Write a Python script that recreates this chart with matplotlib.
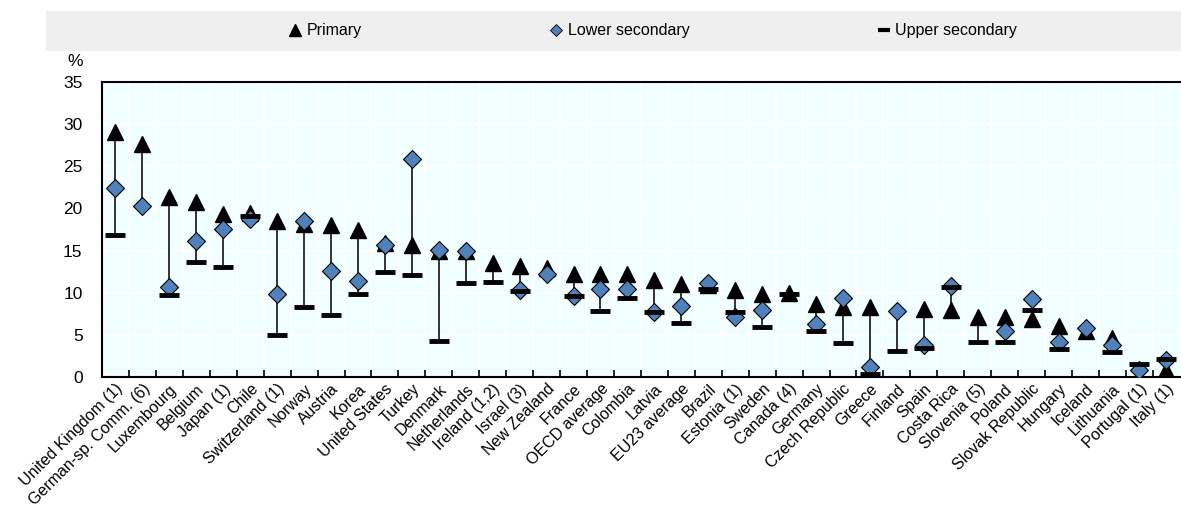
import numpy as np
import matplotlib
matplotlib.use("Agg")
import matplotlib.pyplot as plt
from matplotlib.lines import Line2D
from matplotlib.patches import Rectangle

plt.rcParams['font.family'] = ['Liberation Sans', 'DejaVu Sans']

countries = ["United Kingdom (1)", "German-sp. Comm. (6)", "Luxembourg", "Belgium", "Japan (1)",
             "Chile", "Switzerland (1)", "Norway", "Austria", "Korea", "United States", "Turkey",
             "Denmark", "Netherlands", "Ireland (1,2)", "Israel (3)", "New Zealand", "France",
             "OECD average", "Colombia", "Latvia", "EU23 average", "Brazil", "Estonia (1)",
             "Sweden", "Canada (4)", "Germany", "Czech Republic", "Greece", "Finland", "Spain",
             "Costa Rica", "Slovenia (5)", "Poland", "Slovak Republic", "Hungary", "Iceland",
             "Lithuania", "Portugal (1)", "Italy (1)"]

nan = np.nan
primary = [29.1, 27.7, 21.4, 20.8, 19.3, 19.4, 18.5, 18.2, 18.0, 17.4, 15.9, 15.7,
           15.0, 14.9, 13.5, 13.2, 12.9, 12.2, 12.2, 12.2, 11.5, 11.0, 10.9, 10.3,
           9.9, 10.0, 8.7, 8.3, 8.3, nan, 8.1, 7.9, 7.1, 7.1, 6.9, 6.1, 5.4, 4.6, nan, 0.8]
lower_sec = [22.4, 20.3, 10.7, 16.1, 17.6, 18.7, 9.8, 18.5, 12.6, 11.4, 15.7, 25.9,
             15.1, 14.9, nan, 10.3, 12.2, 9.6, 10.4, 10.4, 7.7, 8.4, 11.2, 7.1,
             7.9, nan, 6.3, 9.4, 1.2, 7.8, 3.8, 10.8, nan, 5.5, 9.2, 4.1, 5.8, 3.8, 0.8, 2.0]
upper_sec = [16.9, nan, 9.7, 13.6, 13.0, 19.1, 5.0, 8.3, 7.4, 9.8, 12.4, 12.1,
             4.3, 11.1, 11.3, 10.2, nan, 9.6, 7.8, 9.4, 7.7, 6.4, 10.4, 7.7,
             5.9, 9.9, 5.5, 4.0, 0.3, 3.1, 3.4, 10.7, 4.1, 4.1, 8.0, 3.3, nan, 3.0, 1.6, 2.1]

x = np.arange(len(countries))
p = np.array(primary)
l = np.array(lower_sec)
u = np.array(upper_sec)
stack = np.vstack([p, l, u])
lo = np.nanmin(stack, axis=0)
hi = np.nanmax(stack, axis=0)

fig = plt.figure(figsize=(11.81, 5.09), dpi=100)
ax = fig.add_axes([102 / 1181, (509 - 377) / 509, 1 - 102 / 1181 - 0.001, 295 / 509])
ax.set_facecolor('#F2FFFF')

ax.vlines(x, lo, hi, color='#333333', lw=1.4, zorder=2)
ax.plot(x, p, ls='none', marker='^', ms=11, color='black', zorder=3)
ax.plot(x, l, ls='none', marker='D', ms=9, mfc='#4F81BD', mec='black', mew=0.8, zorder=4)
ax.plot(x, u, ls='none', marker='_', ms=14.5, mew=3.5, color='black', zorder=5)

ax.set_xlim(-0.5, len(countries) - 0.5)
ax.set_ylim(0, 35)
ax.set_yticks(np.arange(0, 36, 5))
ax.set_xticks(x - 0.5, minor=False)
ax.set_xticklabels([])
ax.set_xticks(x, minor=True)
ax.set_xticklabels(countries, minor=True, rotation=45, ha='right', va='top',
                   rotation_mode='anchor', fontsize=11.5)
ax.tick_params(axis='x', which='minor', length=0, pad=3)
ax.tick_params(axis='x', which='major', direction='in', length=5, width=1.2)
ax.tick_params(axis='y', length=0, labelsize=12.5, pad=14)
ax.grid(True, which='major', color='white', lw=1.2)
ax.set_axisbelow(True)
for s in ['left', 'bottom', 'top']:
    ax.spines[s].set_linewidth(1.5)
ax.spines['right'].set_visible(False)

fig.text(75 / 1181, 1 - 62 / 509, '%', fontsize=12.5, ha='center', va='center')

# legend
fig.patches.append(Rectangle((46 / 1181, 1 - 51 / 509), 1 - 46 / 1181, 40 / 509,
                             transform=fig.transFigure, facecolor='#EFEFEF',
                             edgecolor='none', zorder=0))
handles = [Line2D([], [], ls='none', marker='^', ms=8, color='black'),
           Line2D([], [], ls='none', marker='D', ms=6.5, mfc='#4F81BD', mec='black', mew=0.6),
           Line2D([], [], ls='none', marker='_', ms=9, mew=3, color='black')]
fig.legend(handles, ['Primary', 'Lower secondary', 'Upper secondary'], ncol=3,
           loc='center', bbox_to_anchor=(0.553, 1 - 31 / 509), frameon=False,
           fontsize=11.5, handlelength=0.8, handletextpad=0.3, columnspacing=11.8)

fig.savefig('out.png', dpi=100)
